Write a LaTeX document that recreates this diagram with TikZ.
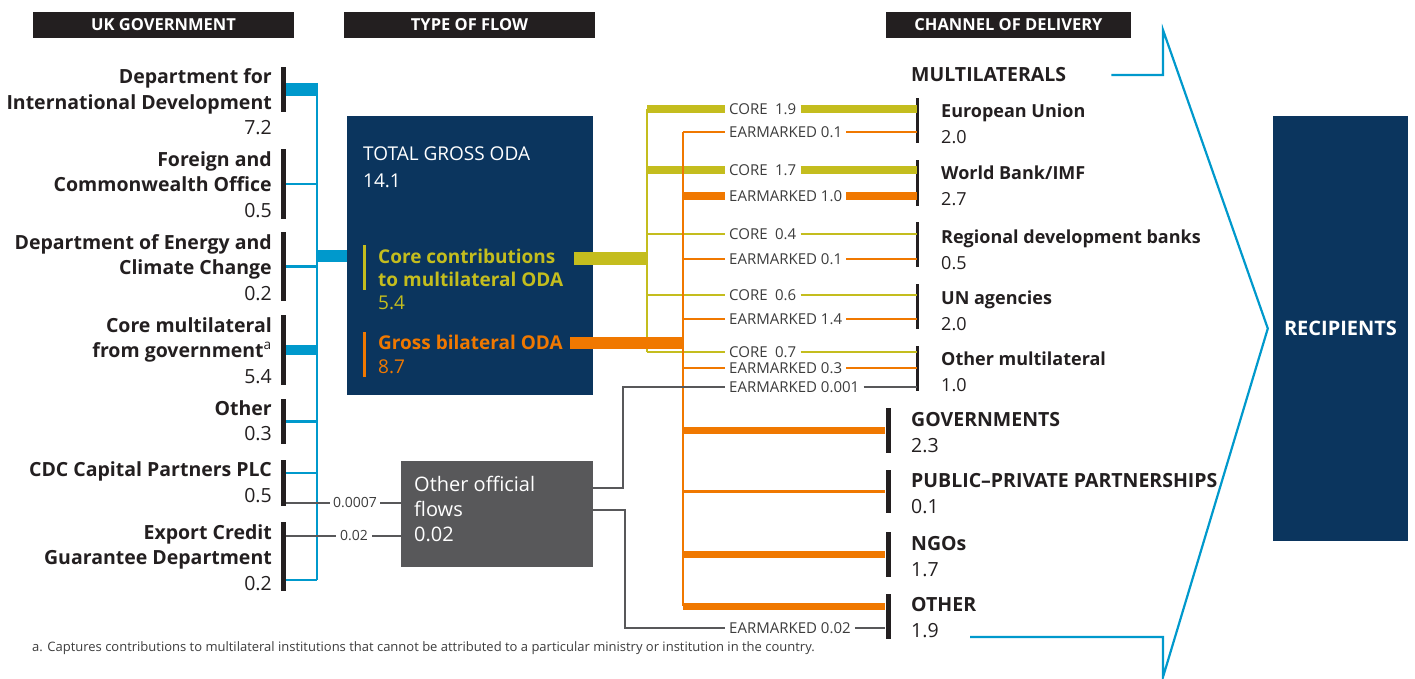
\documentclass[tikz,border=0pt]{standalone}
\usepackage{fontspec}
\setmainfont{Open Sans}
\usetikzlibrary{positioning, calc}
\definecolor{barblack}{RGB}{35,31,32}
\definecolor{odanavy}{RGB}{11,53,94}
\definecolor{govblue}{RGB}{0,153,204}
\definecolor{coreyellow}{RGB}{196,189,30}
\definecolor{bilorange}{RGB}{240,120,0}
\definecolor{oofgray}{RGB}{88,88,90}
\definecolor{textgray}{RGB}{60,60,60}
\tikzset{
  headbar/.style={rectangle, fill=barblack, text=white, inner sep=0,
    minimum width=261, minimum height=26,
    font=\fontsize{16.5}{18}\selectfont\bfseries},
  govlabel/.style={align=right, anchor=base east, inner sep=0, text=barblack,
    font=\fontsize{19.5}{25.5}\selectfont\bfseries},
  chanlabel/.style={align=left, anchor=base west, inner sep=0, text=barblack,
    font=\fontsize{19.5}{26}\selectfont\bfseries},
  multlabel/.style={chanlabel, font=\fontsize{18}{26}\selectfont\bfseries},
  flowlabel/.style={anchor=west, inner xsep=4, inner ysep=0, text=textgray,
    font=\fontsize{15}{18}\selectfont},
  smalllabel/.style={flowlabel, font=\fontsize{14}{16}\selectfont},
  vbar/.style={rectangle, fill=barblack, minimum width=5, inner sep=0},
  mbar/.style={vbar, minimum width=3},
  blueline/.style={draw=govblue, line width=2.5},
  bluefat/.style={draw=govblue, line width=12},
  coreline/.style={draw=coreyellow, line width=2.5},
  corefat/.style={draw=coreyellow, line width=8},
  earline/.style={draw=bilorange, line width=2.5},
  earfat/.style={draw=bilorange, line width=7},
  oofline/.style={draw=oofgray, line width=1.8},
  darkbox/.style={rectangle, inner sep=0},
}
\begin{document}
\begin{tikzpicture}[x=1pt, y=-1pt]
  \useasboundingbox (0,0) rectangle (1415,679);

  % column headings
  \node[headbar] (hgov)  at (163.5,25) {UK GOVERNMENT};
  \node[headbar, minimum width=251] (hflow) at (469.5,25) {TYPE OF FLOW};
  \node[headbar, minimum width=245] (hchan) at (1008.5,25) {CHANNEL OF DELIVERY};

  % UK government (base = last line)
  \node[govlabel] (dfid)  at (272,135)   {Department for\\International Development\\{\mdseries 7.2}};
  \node[govlabel] (fco)   at (272,217)   {Foreign and\\Commonwealth Office\\{\mdseries 0.5}};
  \node[govlabel] (decc)  at (272,300)   {Department of Energy and\\Climate Change\\{\mdseries 0.2}};
  \node[govlabel] (coremg) at (272,383)  {Core multilateral\\from government\textsuperscript{\mdseries a}\\{\mdseries 5.4}};
  \node[govlabel] (othgov) at (272,440.5) {Other\\{\mdseries 0.3}};
  \node[govlabel] (cdc)   at (272,502)   {CDC Capital Partners PLC\\{\mdseries 0.5}};
  \node[govlabel] (ecgd)  at (272,590)   {Export Credit\\Guarantee Department\\{\mdseries 0.2}};

  \node[vbar, minimum height=45] (dfidbar) at (283.5,89.5)  {};
  \node[vbar, minimum height=70] (fcobar)  at (283.5,184)   {};
  \node[vbar, minimum height=69] (deccbar) at (283.5,266.5) {};
  \node[vbar, minimum height=70] (corebar) at (283.5,350)   {};
  \node[vbar, minimum height=45] (othbar)  at (283.5,421.5) {};
  \node[vbar, minimum height=46] (cdcbar)  at (283.5,483)   {};
  \node[vbar, minimum height=69] (ecgdbar) at (283.5,556.5) {};

  \coordinate (govtrunk) at (317,83);
  \coordinate (govend)   at (317,580);

  % type of flow
  \node[darkbox, fill=odanavy, minimum width=246, minimum height=279] (oda) at (470,255.5) {};
  \node[anchor=base west, align=left, inner sep=0, text=white,
        font=\fontsize{19}{26}\selectfont] (total) at (363,187) {TOTAL GROSS ODA\\14.1};
  \node[anchor=base west, align=left, inner sep=0, text=coreyellow,
        font=\fontsize{19}{23}\selectfont\bfseries] (corecon) at (378,309)
        {Core contributions\\to multilateral ODA\\{\mdseries 5.4}};
  \node[anchor=base west, align=left, inner sep=0, text=bilorange,
        font=\fontsize{19}{24}\selectfont\bfseries] (bilat) at (378,373)
        {Gross bilateral ODA\\{\mdseries 8.7}};
  \fill[coreyellow] (363,245) rectangle (366,290);
  \fill[bilorange]  (363,332) rectangle (366,377);

  \node[darkbox, fill=oofgray, minimum width=192, minimum height=106] (oof) at (497,514) {};
  \node[anchor=base west, align=left, inner sep=0, text=white,
        font=\fontsize{20}{25}\selectfont] (ooftext) at (414,541) {Other official\\flows\\0.02};

  \node[smalllabel, inner xsep=3] (cdcval)  at (330,503) {0.0007};
  \node[smalllabel] (ecgdval) at (336,536) {0.02};

  \coordinate (coreout) at (574,258);
  \coordinate (bilout)  at (570,343);
  \coordinate (coretop) at (647,109);
  \coordinate (corebot) at (647,352);
  \coordinate (eartop)  at (683,132);
  \coordinate (earbot)  at (683,606);
  \coordinate (oofup)   at (623,488);
  \coordinate (oofdown) at (625,510);

  % channel of delivery (base = last line)
  \node[chanlabel] (multi) at (911,82)  {MULTILATERALS};
  \node[multlabel] (eu)    at (941,144) {European Union\\{\mdseries 2.0}};
  \node[multlabel] (wb)    at (941,205) {World Bank/IMF\\{\mdseries 2.7}};
  \node[multlabel] (rdb)   at (941,269) {Regional development banks\\{\mdseries 0.5}};
  \node[multlabel] (un)    at (941,330) {UN agencies\\{\mdseries 2.0}};
  \node[multlabel] (om)    at (941,391) {Other multilateral\\{\mdseries 1.0}};
  \node[chanlabel] (govs)  at (911,452) {GOVERNMENTS\\{\mdseries 2.3}};
  \node[chanlabel] (ppp)   at (911,513) {PUBLIC--PRIVATE PARTNERSHIPS\\{\mdseries 0.1}};
  \node[chanlabel] (ngo)   at (911,576) {NGOs\\{\mdseries 1.7}};
  \node[chanlabel] (othch) at (911,637) {OTHER\\{\mdseries 1.9}};

  \node[mbar, minimum height=45] (eubar)  at (917,120.5) {};
  \node[mbar, minimum height=46] (wbbar)  at (917,183)   {};
  \node[mbar, minimum height=45] (rdbbar) at (917,244.5) {};
  \node[mbar, minimum height=45] (unbar)  at (917,306.5) {};
  \node[mbar, minimum height=45] (ombar)  at (917,368.5) {};
  \node[vbar, minimum height=45] (govsbar) at (888,430.5) {};
  \node[vbar, minimum height=43] (pppbar)  at (888,491.5) {};
  \node[vbar, minimum height=45] (ngobar)  at (888,554.5) {};
  \node[vbar, minimum height=45] (othbar2) at (888,616.5) {};

  \node[flowlabel] (c1) at (725,109) {CORE\enspace 1.9};
  \node[flowlabel] (e1) at (725,132) {EARMARKED 0.1};
  \node[flowlabel] (c2) at (725,170) {CORE\enspace 1.7};
  \node[flowlabel] (e2) at (725,196) {EARMARKED 1.0};
  \node[flowlabel] (c3) at (725,234) {CORE\enspace 0.4};
  \node[flowlabel] (e3) at (725,259) {EARMARKED 0.1};
  \node[flowlabel] (c4) at (725,295) {CORE\enspace 0.6};
  \node[flowlabel] (e4) at (725,319) {EARMARKED 1.4};
  \node[flowlabel] (c5) at (725,352) {CORE\enspace 0.7};
  \node[flowlabel] (e5) at (725,368) {EARMARKED 0.3};
  \node[flowlabel] (g1) at (725,387) {EARMARKED 0.001};
  \node[flowlabel] (g2) at (725,628) {EARMARKED 0.02};

  \node[darkbox, fill=odanavy, minimum width=135, minimum height=425] (recip) at (1340.5,328.5) {};
  \node[text=white, font=\fontsize{20}{24}\selectfont\bfseries] (recipt) at (recip) {RECIPIENTS};

  % government flows
  \draw[blueline] (govtrunk) -- (govend);
  \draw[bluefat, line width=13] (dfidbar.east) -- (dfidbar.east -| govtrunk);
  \draw[blueline] (fcobar.east) -- (fcobar.east -| govtrunk);
  \draw[blueline] (deccbar.east) -- (deccbar.east -| govtrunk);
  \draw[bluefat, line width=10] (corebar.east) -- (corebar.east -| govtrunk);
  \draw[blueline] (othbar.east) -- (othbar.east -| govtrunk);
  \draw[blueline] ([yshift=10]cdcbar.east) -- ([yshift=10]cdcbar.east -| govtrunk);
  \draw[blueline] ([yshift=-23.5]ecgdbar.east) -- (govend);
  \draw[bluefat] (oda.west -| govtrunk) -- (oda.west);
  \draw[oofline] ([yshift=-20]cdcbar.east) -- (cdcval.west);
  \draw[oofline] (cdcval.east) -- (cdcval.east -| oof.west);
  \draw[oofline] ([yshift=20.5]ecgdbar.east) -- (ecgdval.west);
  \draw[oofline] (ecgdval.east) -- (ecgdval.east -| oof.west);

  % core and earmarked flows
  \draw[corefat, line width=13] (coreout) -- (coreout -| coretop);
  \draw[coreline] (coretop) -- (corebot);
  \draw[corefat] (coretop) -- (c1.west);
  \draw[corefat] (c1.east) -- (c1.east -| eubar);
  \draw[corefat] (c2.west -| coretop) -- (c2.west);
  \draw[corefat] (c2.east) -- (c2.east -| wbbar);
  \draw[coreline] (c3.west -| coretop) -- (c3.west);
  \draw[coreline] (c3.east) -- (c3.east -| rdbbar);
  \draw[coreline] (c4.west -| coretop) -- (c4.west);
  \draw[coreline] (c4.east) -- (c4.east -| unbar);
  \draw[coreline] (corebot) -- (c5.west);
  \draw[coreline] (c5.east) -- (c5.east -| ombar);

  \draw[earfat, line width=12] (bilout) -- (bilout -| eartop);
  \draw[earline] (eartop) -- (earbot);
  \draw[earline] (eartop) -- (e1.west);
  \draw[earline] (e1.east) -- (e1.east -| eubar);
  \draw[earfat] (e2.west -| eartop) -- (e2.west);
  \draw[earfat] (e2.east) -- (e2.east -| wbbar);
  \draw[earline] (e3.west -| eartop) -- (e3.west);
  \draw[earline] (e3.east) -- (e3.east -| rdbbar);
  \draw[earline] (e4.west -| eartop) -- (e4.west);
  \draw[earline] (e4.east) -- (e4.east -| unbar);
  \draw[earline] (e5.west -| eartop) -- (e5.west);
  \draw[earline] (e5.east) -- (e5.east -| ombar);
  \draw[earfat] (govsbar.west -| eartop) -- (govsbar.west);
  \draw[earline] (pppbar.west -| eartop) -- (pppbar.west);
  \draw[earfat] (ngobar.west -| eartop) -- (ngobar.west);
  \draw[earfat] (earbot) -- (earbot -| othbar2.west);

  \draw[oofline] ([yshift=26]oof.east) -- (oofup) |- (g1.west);
  \draw[oofline] (g1.east) -- (g1.east -| ombar);
  \draw[oofline] ([yshift=4]oof.east) -- (oofdown) |- (g2.west);
  \draw[oofline] (g2.east) -- (g2.east -| othbar2.west);

  % bracket to recipients
  \coordinate (chevtop) at (1163,30);
  \coordinate (chevbot) at (1163,677);
  \coordinate (otherend) at (970,637);
  \draw[blueline, line width=2.2] ([xshift=45]multi.east) -| (chevtop)
    -- ([xshift=-5]recip.west) -- (chevbot) |- (otherend);

  \node[anchor=base west, inner sep=0, text=textgray,
        font=\fontsize{13}{15}\selectfont] (note) at (32,651)
    {a. Captures contributions to multilateral institutions that cannot be attributed to a particular ministry or institution in the country.};
\end{tikzpicture}
\end{document}
